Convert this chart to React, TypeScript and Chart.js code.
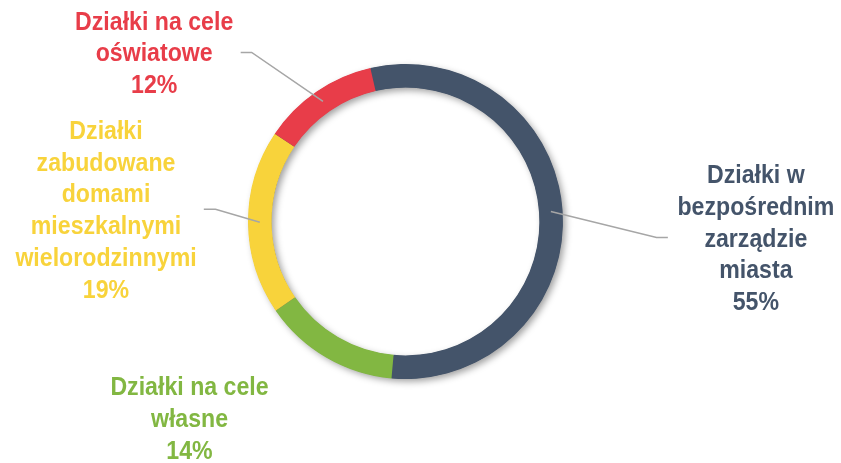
import React, { useEffect, useRef } from 'react';
import { Chart, registerables } from 'chart.js';

Chart.register(...registerables);

const categories: string[][] = [
  ['Działki w', 'bezpośrednim', 'zarządzie', 'miasta'],
  ['Działki na cele', 'własne'],
  ['Działki', 'zabudowane', 'domami', 'mieszkalnymi', 'wielorodzinnymi'],
  ['Działki na cele', 'oświatowe'],
];
const values = [55, 14, 19, 12];
const colors = ['#44546A', '#82B742', '#F8D33B', '#E83D49'];

// label layout (pixel offsets): elbow relative to slice anchor, horizontal run, text centre relative to line end
const labelLayout = [
  { elbow: [105.7, 26], run: 11.3, text: [88, 0], line: true },
  { elbow: [0, 0], run: 0, text: [-142.5, 70.8], line: false },
  { elbow: [-44.3, -13], run: -11.7, text: [-97.8, 0], line: true },
  { elbow: [-71.3, -49], run: -11, text: [-86.5, 0], line: true },
];

const FONT = 'bold 26px "Liberation Sans", Arial, sans-serif';
const LINE_H = 31.7;
const SCALE_X = 0.89;

const shadowPlugin = {
  id: 'ringShadow',
  beforeDatasetsDraw(chart: any) {
    const meta = chart.getDatasetMeta(0);
    const arc = meta.data[0];
    if (!arc) return;
    const { x, y, innerRadius, outerRadius } = arc.getProps(['x', 'y', 'innerRadius', 'outerRadius'], true);
    const ctx = chart.ctx;
    ctx.save();
    ctx.shadowColor = 'rgba(0,0,0,0.38)';
    ctx.shadowBlur = 7;
    ctx.shadowOffsetX = 3;
    ctx.shadowOffsetY = 3;
    ctx.beginPath();
    ctx.arc(x, y, outerRadius - 0.5, 0, Math.PI * 2);
    ctx.arc(x, y, innerRadius + 0.5, 0, Math.PI * 2, true);
    ctx.closePath();
    ctx.fillStyle = colors[0];
    ctx.fill();
    ctx.restore();
  },
};

const labelPlugin = {
  id: 'sliceLabels',
  afterDatasetsDraw(chart: any) {
    const meta = chart.getDatasetMeta(0);
    const ctx = chart.ctx;
    meta.data.forEach((arc: any, i: number) => {
      const { x, y, startAngle, endAngle, innerRadius, outerRadius } = arc.getProps(
        ['x', 'y', 'startAngle', 'endAngle', 'innerRadius', 'outerRadius'],
        true
      );
      const mid = (startAngle + endAngle) / 2;
      const r = (innerRadius + outerRadius) / 2;
      const sx = x + Math.cos(mid) * r;
      const sy = y + Math.sin(mid) * r;
      const lay = labelLayout[i];
      const ex = sx + lay.elbow[0];
      const ey = sy + lay.elbow[1];
      const fx = ex + lay.run;
      const fy = ey;
      if (lay.line) {
        ctx.save();
        ctx.strokeStyle = '#A6A6A6';
        ctx.lineWidth = 1.5;
        ctx.beginPath();
        ctx.moveTo(sx, sy);
        ctx.lineTo(ex, ey);
        ctx.lineTo(fx, fy);
        ctx.stroke();
        ctx.restore();
      }
      const lines = [...categories[i], `${values[i]}%`];
      const tx = fx + lay.text[0];
      const ty = fy + lay.text[1];
      const n = lines.length;
      ctx.save();
      ctx.font = FONT;
      ctx.fillStyle = colors[i];
      ctx.textAlign = 'center';
      ctx.textBaseline = 'alphabetic';
      lines.forEach((ln, k) => {
        const by = ty + (k - (n - 1) / 2) * LINE_H + 9;
        ctx.save();
        ctx.translate(tx, by);
        ctx.scale(SCALE_X, 1);
        ctx.fillText(ln, 0, 0);
        ctx.restore();
      });
      ctx.restore();
    });
  },
};

export default function App() {
  const ref = useRef<HTMLCanvasElement | null>(null);
  useEffect(() => {
    if (!ref.current) return;
    const chart = new Chart(ref.current, {
      type: 'doughnut',
      data: {
        labels: categories.map((c) => c.join(' ')),
        datasets: [
          {
            data: values,
            backgroundColor: colors,
            borderWidth: 0,
          },
        ],
      },
      options: {
        responsive: false,
        animation: false,
        cutout: '85%',
        rotation: -12.9,
        layout: { padding: { left: 248, right: 278, top: 64, bottom: 84 } },
        plugins: {
          legend: { display: false },
          tooltip: { enabled: false },
        },
      },
      plugins: [shadowPlugin, labelPlugin],
    });
    return () => chart.destroy();
  }, []);
  return (
    <div style={{ position: 'absolute', left: 0, top: 0, width: 841, height: 463, background: '#fff' }}>
      <canvas ref={ref} width={841} height={463} style={{ display: 'block', width: 841, height: 463 }} />
    </div>
  );
}
